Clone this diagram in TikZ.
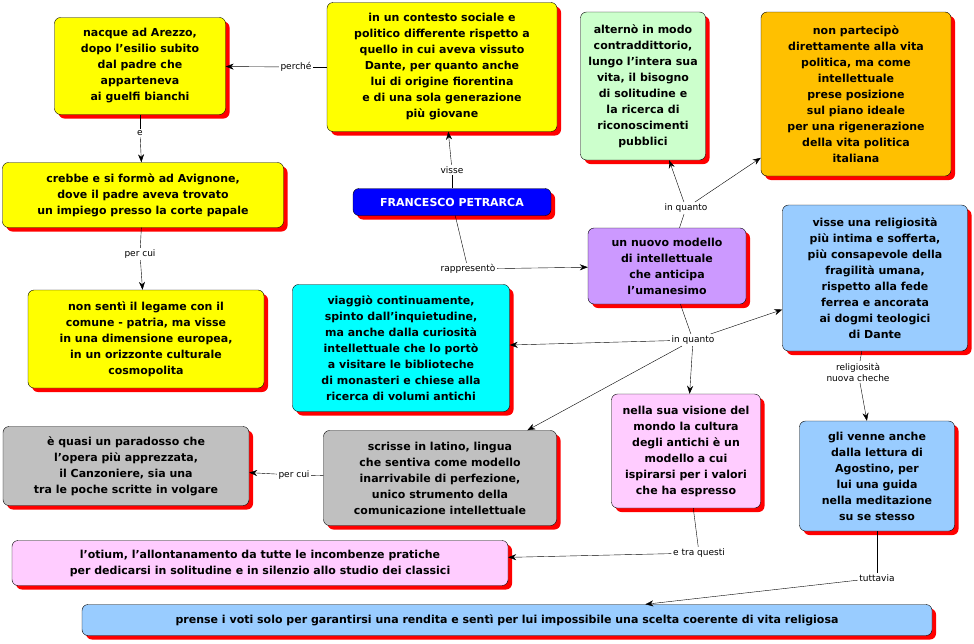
\documentclass[tikz,border=0pt]{standalone}
\usepackage{fontspec}
\setmainfont{DejaVu Sans}
\usetikzlibrary{shadows,arrows.meta}
\definecolor{cy}{HTML}{FFFF00}
\definecolor{cg}{HTML}{CCFFCC}
\definecolor{co}{HTML}{FFC000}
\definecolor{cb}{HTML}{0000FF}
\definecolor{cv}{HTML}{CC99FF}
\definecolor{cl}{HTML}{99CCFF}
\definecolor{cc}{HTML}{00FFFF}
\definecolor{cgr}{HTML}{C0C0C0}
\definecolor{cp}{HTML}{FFCCFF}
\begin{document}
\begin{tikzpicture}[x=1pt,y=-1pt,
 box/.style={draw=black,rounded corners=6pt,align=center,inner sep=2pt,
   font=\fontsize{11}{16}\selectfont\bfseries,
   drop shadow={fill=red,shadow xshift=4pt,shadow yshift=-4pt,opacity=1}},
 lab/.style={fill=white,inner sep=1.5pt,font=\fontsize{9}{11}\selectfont,align=center},
 ar/.style={-{Stealth[length=8pt,width=6pt]}},
 ln/.style={draw=black}]
\useasboundingbox (0,0) rectangle (974,643);
\node[box,fill=cy,minimum width=171,minimum height=97] (n1) at (140,66) {nacque ad Arezzo,\\dopo l'esilio subito\\dal padre che\\apparteneva\\ai guelfi bianchi};
\node[box,fill=cy,minimum width=230,minimum height=129] (n2) at (442,67) {in un contesto sociale e\\politico differente rispetto a\\quello in cui aveva vissuto\\Dante, per quanto anche\\lui di origine fiorentina\\e di una sola generazione\\più giovane};
\node[box,fill=cg,minimum width=125,minimum height=148] (n3) at (643,86) {alternò in modo\\contraddittorio,\\lungo l'intera sua\\vita, il bisogno\\di solitudine e\\la ricerca di\\riconoscimenti\\pubblici};
\node[box,fill=co,minimum width=190,minimum height=164] (n4) at (856,94) {non partecipò\\direttamente alla vita\\politica, ma come\\intellettuale\\prese posizione\\sul piano ideale\\per una rigenerazione\\della vita politica\\italiana};
\node[box,fill=cy,minimum width=281,minimum height=65] (n5) at (143,195) {crebbe e si formò ad Avignone,\\dove il padre aveva trovato\\un impiego presso la corte papale};
\node[box,fill=cb,text=white,minimum width=198,minimum height=27] (n6) at (452,202) {FRANCESCO PETRARCA};
\node[box,fill=cv,minimum width=158,minimum height=76] (n7) at (667,266) {un nuovo modello\\di intellettuale\\che anticipa\\l'umanesimo};
\node[box,fill=cl,minimum width=185,minimum height=146] (n8) at (875,278) {visse una religiosità\\più intima e sofferta,\\più consapevole della\\fragilità umana,\\rispetto alla fede\\ferrea e ancorata\\ai dogmi teologici\\di Dante};
\node[box,fill=cy,minimum width=236,minimum height=98] (n9) at (146,339) {non sentì il legame con il\\comune - patria, ma visse\\in una dimensione europea,\\in un orizzonte culturale\\cosmopolita};
\node[box,fill=cc,minimum width=217,minimum height=127] (n10) at (401,348) {viaggiò continuamente,\\spinto dall'inquietudine,\\ma anche dalla curiosità\\intellettuale che lo portò\\a visitare le biblioteche\\di monasteri e chiese alla\\ricerca di volumi antichi};
\node[box,fill=cgr,minimum width=246,minimum height=79] (n11) at (126,466) {è quasi un paradosso che\\l'opera più apprezzata,\\il Canzoniere, sia una\\tra le poche scritte in volgare};
\node[box,fill=cgr,minimum width=233,minimum height=95] (n12) at (440,478) {scrisse in latino, lingua\\che sentiva come modello\\inarrivabile di perfezione,\\unico strumento della\\comunicazione intellettuale};
\node[box,fill=cp,minimum width=149,minimum height=114] (n13) at (686,451) {nella sua visione del\\mondo la cultura\\degli antichi è un\\modello a cui\\ispirarsi per i valori\\che ha espresso};
\node[box,fill=cl,minimum width=155,minimum height=110] (n14) at (877,476) {gli venne anche\\dalla lettura di\\Agostino, per\\lui una guida\\nella meditazione\\su se stesso};
\node[box,fill=cp,minimum width=496,minimum height=45] (n15) at (260,563) {l'otium, l'allontanamento da tutte le incombenze pratiche\\per dedicarsi in solitudine e in silenzio allo studio dei classici};
\node[box,fill=cl,minimum width=850,minimum height=31] (n16) at (507,620) {prense i voti solo per garantirsi una rendita e sentì per lui impossibile una scelta coerente di vita religiosa};
% labels
\node[lab] (l1) at (296,67) {perché};
\node[lab] (l2) at (140,133) {e};
\node[lab] (l3) at (140,254) {per cui};
\node[lab] (l4) at (452,170) {visse};
\node[lab] (l5) at (468,269) {rappresentò};
\node[lab] (l6) at (686,208) {in quanto};
\node[lab] (l7) at (693,340) {in quanto};
\node[lab] (l8) at (858,372) {religiosità\\nuova cheche};
\node[lab] (l9) at (294,475) {per cui};
\node[lab] (l10) at (699,553) {e tra questi};
\node[lab] (l11) at (877,578) {tuttavia};
% connectors
\draw (n2) -- (l1); \draw[ar] (l1) -- (n1);
\draw (n1) -- (l2); \draw[ar] (l2) -- (n5);
\draw (n5) -- (l3); \draw[ar] (l3) -- (n9);
\draw (n6) -- (l4); \draw[ar] (l4) -- (n2);
\draw (n6) -- (l5); \draw[ar] (l5) -- (n7);
\draw (n7) -- (l6); \draw[ar] (l6) -- (n3); \draw[ar] (l6) -- (n4);
\draw (n7) -- (l7); \draw[ar] (l7) -- (n10); \draw[ar] (l7) -- (n12);
\draw[ar] (l7) -- (n13); \draw[ar] (l7) -- (n8);
\draw (n8) -- (l8); \draw[ar] (l8) -- (n14);
\draw (n12) -- (l9); \draw[ar] (l9) -- (n11);
\draw (n13) -- (l10); \draw[ar] (l10) -- (n15);
\draw (n14) -- (l11); \draw[ar] (l11) -- (n16);
\end{tikzpicture}
\end{document}
